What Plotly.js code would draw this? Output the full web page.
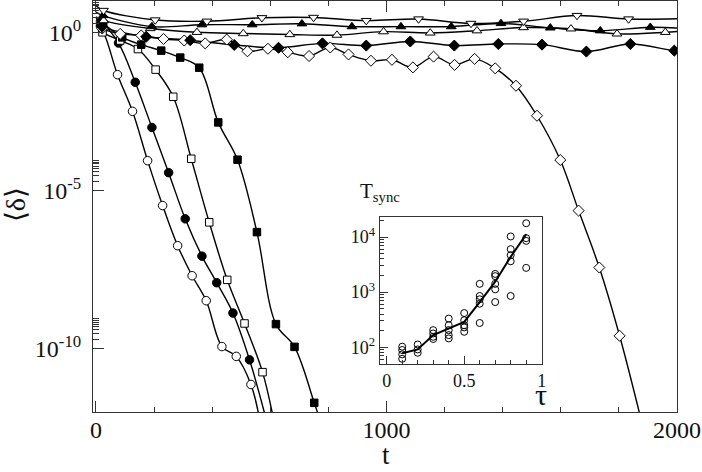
<!DOCTYPE html>
<html><head><meta charset="utf-8">
<script src="https://cdn.plot.ly/plotly-3.0.1.min.js"></script>
<style>html,body{margin:0;padding:0;background:#fff}#chart{width:702px;height:472px}</style>
</head><body><div id="chart"></div>
<script>
// Main panel: time t and log10(<delta>).
// First point = start of curve (no marker), last point = end of curve (no marker).
const openCircleT = [0, 22.7, 74.4, 126, 178, 229.6, 281.2, 331.2, 379.7, 433.7, 483, 533.6, 565];
const openCircleLog = [0.25, 0.06, -1.33, -2.49, -4.05, -5.47, -6.74, -7.69, -8.48, -9.93, -10.24, -11.13, -12.3];

const filledCircleT = [0, 20.3, 77.8, 135.3, 192.8, 250.3, 307.4, 364.9, 415.8, 471.6, 528.7, 588];
const filledCircleLog = [0.45, 0.32, -0.33, -1.57, -3.0, -4.43, -5.89, -7.07, -7.91, -8.87, -10.35, -12.3];

const openSquareT = [0, 22.7, 83.6, 144.6, 205.5, 266.1, 328.1, 390, 452, 511.5, 573.5, 613];
const openSquareLog = [0.2, 0.01, -0.25, -0.52, -1.17, -2.03, -3.99, -6.0, -7.82, -9.2, -10.74, -12.3];

const filledSquareT = [0, 25.1, 90.5, 155.9, 224.8, 290.2, 355.6, 421, 487.4, 554.2, 619.6, 683.6, 751.5, 773];
const filledSquareLog = [0.4, 0.28, -0.15, -0.38, -0.57, -0.79, -1.11, -2.84, -4.02, -6.31, -9.22, -9.94, -11.71, -12.3];

const openDiamondT = [0, 21.7, 83.6, 155.9, 232.7, 304, 376.2, 450.3, 521.5, 592.1, 660.2, 733.6, 806.5, 869.5, 946.6, 1018.9, 1091.2, 1162.1, 1234.4, 1303.3, 1374.5, 1445.8, 1518.1, 1598.3, 1661.3, 1732.6, 1802.4, 1878];
const openDiamondLog = [0.3, 0.13, -0.04, -0.09, -0.2, -0.25, -0.34, -0.22, -0.59, -0.51, -0.62, -0.74, -0.47, -0.69, -0.89, -0.86, -1.1, -0.76, -1.02, -0.83, -1.13, -1.68, -2.63, -4.03, -5.63, -7.43, -9.59, -12.3];

const filledDiamondT = [0, 21.7, 173.1, 324.6, 476.1, 628.6, 779.7, 930.5, 1082, 1233.5, 1385, 1535.3, 1688, 1839.4, 1990.7, 2010];
const filledDiamondLog = [0.35, 0.19, -0.13, -0.24, -0.39, -0.48, -0.34, -0.41, -0.28, -0.41, -0.36, -0.38, -0.6, -0.36, -0.57, -0.55];

const openUpTriT = [0, 26.5, 186.9, 347.7, 507.1, 667.5, 829.6, 990, 1150.7, 1311.5, 1471.9, 1635.1, 1793.5, 1959.8, 2010];
const openUpTriLog = [0.5, 0.38, 0.13, 0.01, -0.03, -0.06, -0.08, 0.03, -0.01, 0.06, 0.16, 0.12, -0.04, 0.01, 0.04];

const filledUpTriT = [0, 25.1, 192.8, 364.9, 538, 709.1, 881.2, 1049.9, 1223.1, 1394.1, 1563.9, 1736, 1908.1, 2010];
const filledUpTriLog = [0.65, 0.54, 0.19, 0.25, 0.25, 0.28, 0.19, 0.19, 0.19, 0.29, 0.15, 0.06, 0.17, 0.14];

const openDownTriT = [0, 26.2, 204.1, 382.1, 571.4, 749.1, 930.5, 1110.5, 1290.9, 1471.9, 1655.8, 1833.4, 2010];
const openDownTriLog = [0.85, 0.7, 0.4, 0.36, 0.47, 0.48, 0.38, 0.43, 0.29, 0.36, 0.54, 0.43, 0.44];

// Inset: T_sync vs tau (log10 of T_sync)
const insetTau = [0.1,0.1,0.1,0.1, 0.2,0.2,0.2, 0.3,0.3,0.3,0.3, 0.4,0.4,0.4,0.4,0.4, 0.5,0.5,0.5,0.5,0.5, 0.6,0.6,0.6,0.6,0.6, 0.7,0.7,0.7,0.7,0.7, 0.8,0.8,0.8,0.8,0.8, 0.9,0.9,0.9,0.9];
const insetLogT = [2.01,1.95,1.87,1.79, 2.05,1.96,1.90, 2.31,2.25,2.19,2.15, 2.52,2.40,2.31,2.22,2.16, 2.62,2.49,2.40,2.36,2.28, 3.15,2.93,2.87,2.79,2.44, 3.33,3.29,3.15,3.05,2.82, 4.01,3.78,3.67,3.56,2.93, 4.25,3.98,3.93,3.44];
const meanTau = [0.1,0.2,0.3,0.4,0.5,0.6,0.7,0.8,0.9];
const meanLogT = [1.89,1.96,2.22,2.34,2.46,2.82,3.19,3.64,4.05];

const xTicks = [0, 1000, 2000];
const yTickVals = [1, 1e-5, 1e-10];
const yTickText = ['10<sup>0</sup>', '10<sup>-5</sup>', '10<sup>-10</sup>'];
const insetXTicks = [0, 0.5, 1];
const insetYTickVals = [100, 1000, 10000];
const insetYTickText = ['10<sup>2</sup>', '10<sup>3</sup>', '10<sup>4</sup>'];

const pw = v => Math.pow(10, v);
const series = [
  {t: openCircleT, l: openCircleLog, sym: 'circle', fill: '#fff', size: 8.5},
  {t: filledCircleT, l: filledCircleLog, sym: 'circle', fill: '#000', size: 8.5},
  {t: openSquareT, l: openSquareLog, sym: 'square', fill: '#fff', size: 7.5},
  {t: filledSquareT, l: filledSquareLog, sym: 'square', fill: '#000', size: 7.5},
  {t: openDiamondT, l: openDiamondLog, sym: 'diamond', fill: '#fff', size: 8.5},
  {t: filledDiamondT, l: filledDiamondLog, sym: 'diamond', fill: '#000', size: 8.5},
  {t: openUpTriT, l: openUpTriLog, sym: 'triangle-up', fill: '#fff', size: 8.5},
  {t: filledUpTriT, l: filledUpTriLog, sym: 'triangle-up', fill: '#000', size: 8.5},
  {t: openDownTriT, l: openDownTriLog, sym: 'triangle-down', fill: '#fff', size: 8.5}
];

const traces = [];
series.forEach(s => {
  traces.push({x: s.t, y: s.l.map(pw), type: 'scatter', mode: 'lines',
    line: {color: '#000', width: 1.4, shape: 'spline', smoothing: 1}, hoverinfo: 'skip', showlegend: false});
});
series.forEach(s => {
  traces.push({x: s.t.slice(1, -1), y: s.l.slice(1, -1).map(pw), type: 'scatter', mode: 'markers',
    marker: {symbol: s.sym, size: s.size, color: s.fill, line: {color: '#000', width: 1}}, showlegend: false});
});
traces.push({x: meanTau, y: meanLogT.map(pw), xaxis: 'x2', yaxis: 'y2', type: 'scatter', mode: 'lines',
  line: {color: '#000', width: 2}, showlegend: false});
traces.push({x: insetTau, y: insetLogT.map(pw), xaxis: 'x2', yaxis: 'y2', type: 'scatter', mode: 'markers',
  marker: {symbol: 'circle', size: 7, color: 'rgba(255,255,255,0)', line: {color: '#000', width: 1}}, showlegend: false});

const minorLog = [];
[0, -5, -10].forEach(k => { for (let m = 2; m <= 9; m++) minorLog.push(m * Math.pow(10, k)); });
const insetMinor = [];
[1, 2, 3, 4].forEach(k => { for (let m = 2; m <= 9; m++) insetMinor.push(m * Math.pow(10, k)); });

const font = 'Liberation Serif, serif';
const layout = {
  width: 702, height: 472,
  margin: {l: 93, r: 25, t: 1, b: 60},
  paper_bgcolor: '#fff', plot_bgcolor: 'rgba(0,0,0,0)',
  font: {family: font, color: '#111', size: 23},
  showlegend: false,
  xaxis: {range: [-10, 2000], tickmode: 'array', tickvals: xTicks, ticks: 'inside', ticklen: 11, tickwidth: 1,
    tickcolor: '#333', showline: true, linecolor: '#333', linewidth: 1, mirror: 'ticks', showgrid: false, zeroline: false,
    tickfont: {family: font, size: 24, color: '#111'}, ticklabelstandoff: -4,
    minor: {tickmode: 'linear', tick0: 0, dtick: 200, ticks: 'inside', ticklen: 5, tickcolor: '#333', showgrid: false}},
  yaxis: {type: 'log', range: [-12, 1], tickmode: 'array', tickvals: yTickVals, ticktext: yTickText, ticks: 'inside',
    ticklen: 11, tickwidth: 1, tickcolor: '#333', showline: true, linecolor: '#333', linewidth: 1, mirror: true,
    showgrid: false, zeroline: false, tickfont: {family: font, size: 24, color: '#111'}, ticklabelstandoff: 6,
    minor: {tickmode: 'array', tickvals: minorLog, ticks: 'inside', ticklen: 6, tickcolor: '#333', showgrid: false}},
  xaxis2: {domain: [0.491, 0.7683], anchor: 'y2', range: [-0.045, 1], tickmode: 'array', tickvals: insetXTicks,
    ticktext: ['0', '0.5', '1'], ticks: 'inside', ticklen: 8, tickcolor: '#333', showline: true, linecolor: '#333', mirror: true,
    showgrid: false, zeroline: false, tickfont: {family: font, size: 18, color: '#111'},
    minor: {tickmode: 'linear', tick0: 0, dtick: 0.1, ticks: 'inside', ticklen: 4, tickcolor: '#333', showgrid: false}},
  yaxis2: {domain: [0.116, 0.474], anchor: 'x2', type: 'log', range: [1.69, 4.36], tickmode: 'array',
    tickvals: insetYTickVals, ticktext: insetYTickText, ticks: 'inside', ticklen: 8, tickcolor: '#333', showline: true,
    linecolor: '#333', mirror: true, showgrid: false, zeroline: false, tickfont: {family: font, size: 18, color: '#111'},
    minor: {tickmode: 'array', tickvals: insetMinor, ticks: 'inside', ticklen: 4, tickcolor: '#333', showgrid: false}},
  annotations: [
    {text: '⟨δ⟩', xref: 'paper', yref: 'paper', x: -0.1336, y: 0.5057, xanchor: 'center', yanchor: 'middle',
      textangle: -90, showarrow: false, font: {family: font, size: 28}},
    {text: 't', xref: 'paper', yref: 'paper', x: 0.5017, y: -0.104, xanchor: 'center', yanchor: 'middle',
      showarrow: false, font: {family: font, size: 27}},
    {text: 'T<sub>sync</sub>', xref: 'paper', yref: 'paper', x: 0.491, y: 0.535, xanchor: 'center', yanchor: 'middle',
      showarrow: false, font: {family: font, size: 21}},
    {text: 'τ', xref: 'paper', yref: 'paper', x: 0.767, y: 0.042, xanchor: 'center', yanchor: 'middle',
      showarrow: false, font: {family: font, size: 30}}
  ]
};
Plotly.newPlot('chart', traces, layout, {displayModeBar: false, staticPlot: true});
</script></body></html>
